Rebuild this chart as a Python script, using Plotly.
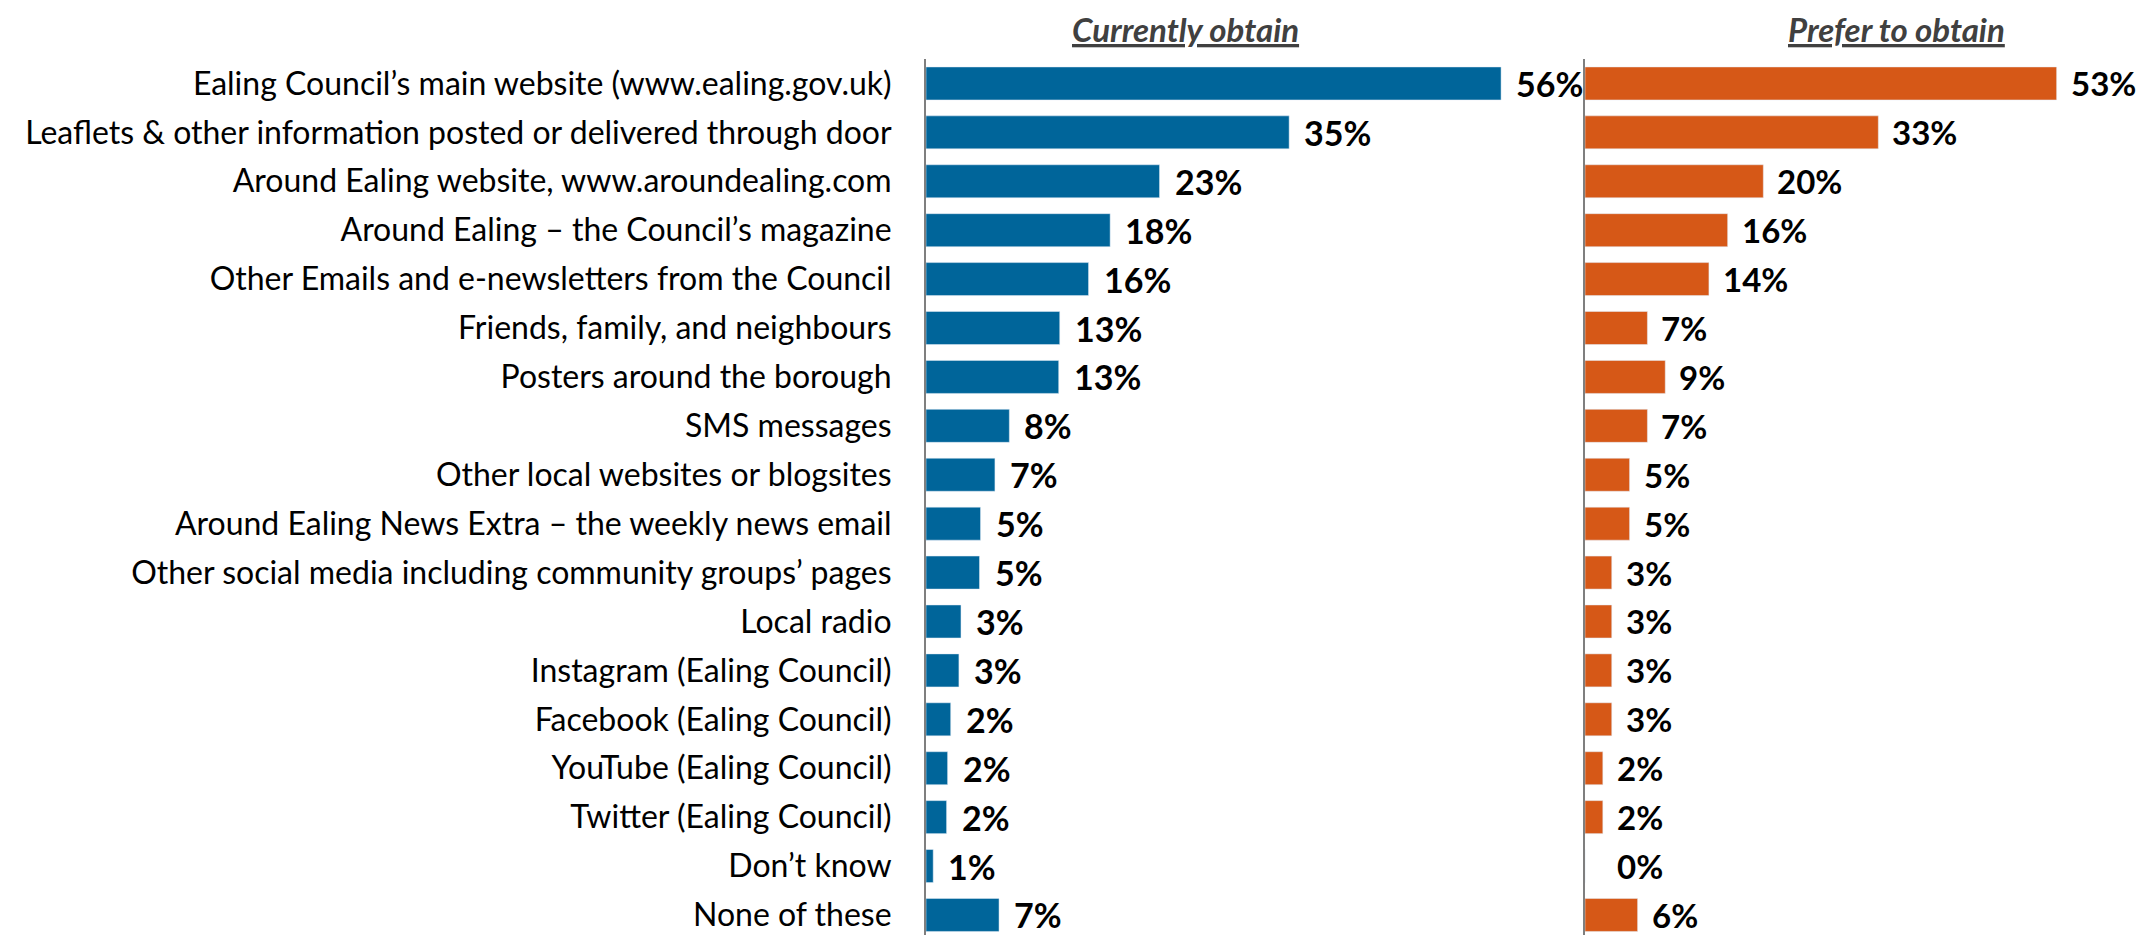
import plotly.graph_objects as go

categories = [
    "Ealing Council’s main website (www.ealing.gov.uk)",
    "Leaflets & other information posted or delivered through door",
    "Around Ealing website, www.aroundealing.com",
    "Around Ealing – the Council’s magazine",
    "Other Emails and e-newsletters from the Council",
    "Friends, family, and neighbours",
    "Posters around the borough",
    "SMS messages",
    "Other local websites or blogsites",
    "Around Ealing News Extra – the weekly news email",
    "Other social media including community groups’ pages",
    "Local radio",
    "Instagram (Ealing Council)",
    "Facebook (Ealing Council)",
    "YouTube (Ealing Council)",
    "Twitter (Ealing Council)",
    "Don’t know",
    "None of these",
]
currently = [55.9, 35.3, 22.7, 17.9, 15.8, 13.0, 12.9, 8.1, 6.7, 5.3, 5.2, 3.4, 3.2, 2.4, 2.1, 2.0, 0.7, 7.1]
prefer = [52.9, 32.9, 20.0, 16.0, 13.9, 7.0, 9.0, 7.0, 5.0, 5.0, 3.0, 3.0, 3.0, 3.0, 2.0, 2.0, 0.0, 5.9]
titles = ["Currently obtain", "Prefer to obtain"]

BLUE = "#00659A"
ORANGE = "#D65817"
FONT = "Lato"

# page body has an 8px margin; figure is placed at (8, 8)
OFF = 8
W = 2144 - OFF
H = 935 - OFF
TOP = 59 - OFF
PH = H - TOP


def px(x):
    return (x - OFF) / W


fig = go.Figure()
fig.add_trace(go.Bar(y=categories, x=currently, orientation="h", marker_color=BLUE,
                     xaxis="x", yaxis="y", showlegend=False, hoverinfo="skip"))
fig.add_trace(go.Bar(y=categories, x=prefer, orientation="h", marker_color=ORANGE,
                     xaxis="x2", yaxis="y2", showlegend=False, hoverinfo="skip"))

annotations = []
for c, v in zip(categories, currently):
    annotations.append(dict(x=v, y=c, xref="x", yref="y", text=f"<b>{v:.0f}%</b>",
                            showarrow=False, xanchor="left", xshift=13,
                            font=dict(family=FONT, size=34, color="black")))
for c, v in zip(categories, prefer):
    annotations.append(dict(x=v, y=c, xref="x2", yref="y2", text=f"<b>{v:.0f}%</b>",
                            showarrow=False, xanchor="left", xshift=12 if v > 0 else 30,
                            font=dict(family=FONT, size=33, color="black")))

title_y = 1 + (59 - 29) / PH
annotations.append(dict(x=px(1185), y=title_y, xref="paper", yref="paper",
                        text=f"<b><i><u>{titles[0]}</u></i></b>", showarrow=False,
                        xanchor="center", yanchor="middle",
                        font=dict(family=FONT, size=33, color="#404040")))
annotations.append(dict(x=px(1896), y=title_y, xref="paper", yref="paper",
                        text=f"<b><i><u>{titles[1]}</u></i></b>", showarrow=False,
                        xanchor="center", yanchor="middle",
                        font=dict(family=FONT, size=33, color="#404040")))

yr = [17.41, -0.5]
fig.update_layout(
    width=W, height=H,
    margin=dict(l=0, r=0, t=TOP, b=0),
    paper_bgcolor="white", plot_bgcolor="white",
    bargap=0.325,
    font=dict(family=FONT, color="black"),
    xaxis=dict(domain=[px(926), px(1570)], range=[0, 62.6], visible=False, fixedrange=True),
    xaxis2=dict(domain=[px(1585), 1.0], range=[0, 62.7], visible=False, fixedrange=True),
    yaxis=dict(anchor="x", range=yr, type="category", showline=True, linecolor="#7F7F7F",
               linewidth=2, ticks="outside", ticklen=26, tickcolor="rgba(0,0,0,0)",
               tickfont=dict(family=FONT, size=32, color="black"), showgrid=False,
               automargin=False, fixedrange=True),
    yaxis2=dict(anchor="x2", range=yr, type="category", matches="y", showline=True,
                linecolor="#7F7F7F", linewidth=2, showticklabels=False, ticks="",
                showgrid=False, fixedrange=True),
    annotations=annotations,
)

fig.write_html("out.html")
